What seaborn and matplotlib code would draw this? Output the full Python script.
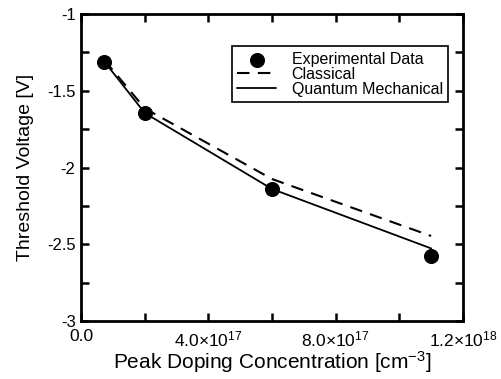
import pandas as pd
import numpy as np
import matplotlib.pyplot as plt
import seaborn as sns

# Data
doping = [7.3e16, 2.0e17, 6.0e17, 1.1e18]
vt_exp = [-1.313, -1.643, -2.142, -2.577]
vt_classical = [-1.30, -1.615, -2.075, -2.446]
vt_quantum = [-1.31, -1.645, -2.14, -2.527]

xtick_pos = [0.0, 4.0e17, 8.0e17, 1.2e18]
xtick_labels = ["0.0", r"4.0×10$^{17}$", r"8.0×10$^{17}$", r"1.2×10$^{18}$"]
ytick_pos = [-3, -2.5, -2, -1.5, -1]
ytick_labels = ["-3", "-2.5", "-2", "-1.5", "-1"]

df = pd.DataFrame({"doping": doping, "exp": vt_exp,
                   "classical": vt_classical, "quantum": vt_quantum})

sns.set_style("ticks")
plt.rcParams["font.family"] = ["Liberation Sans", "DejaVu Sans"]
plt.rcParams["mathtext.default"] = "regular"
plt.rcParams["text.color"] = "black"
plt.rcParams["axes.labelcolor"] = "black"

fig, ax = plt.subplots(figsize=(5.01, 3.79), dpi=100)
fig.subplots_adjust(left=0.162, right=0.924, top=0.963, bottom=0.153)

sns.lineplot(data=df, x="doping", y="classical", ax=ax, color="black",
             linewidth=1.5, linestyle=(0, (6, 4)), label="Classical")
sns.lineplot(data=df, x="doping", y="quantum", ax=ax, color="black",
             linewidth=1.3, label="Quantum Mechanical")
sns.scatterplot(data=df, x="doping", y="exp", ax=ax, color="black", s=100,
                edgecolor="black", zorder=5, label="Experimental Data")

ax.set_xlim(0, 1.2e18)
ax.set_ylim(-3, -1)
ax.set_xticks(xtick_pos)
ax.set_xticklabels(xtick_labels)
ax.set_xticks(np.arange(0, 1.2e18, 2e17), minor=True)
ax.set_yticks(ytick_pos)
ax.set_yticklabels(ytick_labels)
ax.set_yticks(np.arange(-3, -1, 0.25), minor=True)
ax.tick_params(which="both", direction="in", top=True, right=True,
               width=1.8, length=6, labelsize=12, colors="black", pad=4)
ax.tick_params(axis="x", labelsize=12.5, pad=6)
for sp in ax.spines.values():
    sp.set_linewidth(2)
    sp.set_color("black")

ax.set_xlabel(r"Peak Doping Concentration [cm$^{-3}$]", fontsize=15, labelpad=0)
ax.set_ylabel("Threshold Voltage [V]", fontsize=14, labelpad=9)

handles, labels = ax.get_legend_handles_labels()
order = [labels.index(l) for l in ["Experimental Data", "Classical", "Quantum Mechanical"]]
leg = ax.legend([handles[i] for i in order], [labels[i] for i in order],
                loc="upper right", bbox_to_anchor=(0.962, 0.895), fontsize=11.5,
                frameon=True, fancybox=False, edgecolor="black", framealpha=1,
                handlelength=2.4, handletextpad=1.0, borderpad=0.35,
                labelspacing=0.0, borderaxespad=0)
leg.get_frame().set_linewidth(1.2)

plt.savefig("out.png", dpi=100)
